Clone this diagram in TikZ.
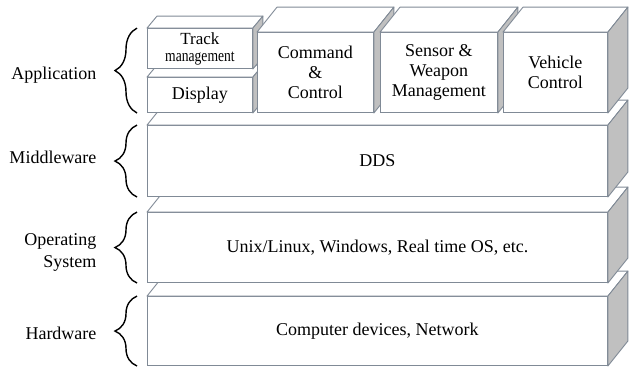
\documentclass[tikz,border=0pt]{standalone}
\usepackage{fontspec}
\newfontfamily\diagfont{Liberation Serif}
\usetikzlibrary{decorations.pathreplacing}

\definecolor{edgegray}{RGB}{128,138,150}
\definecolor{sidegray}{RGB}{192,192,192}

% top and right faces of a slab, #1 = node, #2/#3 = depth
\newcommand{\slabfaces}[3]{%
  \filldraw[topface] (#1.north west) -- ++(#2,#3) -- ([shift={(#2,#3)}]#1.north east) -- (#1.north east) -- cycle;
  \filldraw[sideface] (#1.north east) -- ++(#2,#3) -- ([shift={(#2,#3)}]#1.south east) -- (#1.south east) -- cycle;
}

\begin{document}
\begin{tikzpicture}[x=1pt,y=1pt,
  front/.style={draw=edgegray, fill=white, line width=0.9pt, inner sep=0pt,
    anchor=south west, align=center, font=\diagfont\fontsize{18}{20}\selectfont},
  topface/.style={draw=edgegray, fill=white, line width=0.9pt, line join=round},
  sideface/.style={draw=edgegray, fill=sidegray, line width=0.9pt, line join=round},
  lbl/.style={anchor=east, align=right, font=\diagfont\fontsize{18}{22}\selectfont},
  brc/.style={decorate, decoration={brace, amplitude=22pt}, line width=1.4pt}]
\useasboundingbox (0,0) rectangle (636,367);

% layers, back to front
\node[front, minimum width=460pt, minimum height=69pt] (hw) at (147,1) {Computer devices, Network};
\slabfaces{hw}{20}{25}
\node[front, minimum width=460pt, minimum height=70pt] (os) at (147,84) {Unix/Linux, Windows, Real time OS, etc.};
\slabfaces{os}{20}{25}
\node[front, minimum width=460pt, minimum height=71pt] (dds) at (147,170) {DDS};
\slabfaces{dds}{20}{25}

% application blocks
\node[front, minimum width=105pt, minimum height=35pt] (disp) at (147,254) {Display};
\slabfaces{disp}{10}{12}
\node[front, minimum width=105pt, minimum height=40pt,
  font=\diagfont\fontsize{17}{17}\selectfont] (track) at (147,298) {Track\\\scalebox{0.8}[1]{management}};
\slabfaces{track}{10}{12}
\node[front, minimum width=116pt, minimum height=80pt] (cc) at (257,254) {Command\\\&\\Control};
\slabfaces{cc}{20}{25}
\node[front, minimum width=117pt, minimum height=80pt] (sw) at (380,254) {Sensor \&\\Weapon\\Management};
\slabfaces{sw}{20}{25}
\node[front, minimum width=104pt, minimum height=80pt] (vc) at (503,254) {Vehicle\\Control};
\slabfaces{vc}{20}{25}

% layer names
\node[lbl] (lapp) at (100,292) {Application};
\node[lbl] (lmid) at (100,210) {Middleware};
\node[lbl] (los) at (100,115) {Operating\\System};
\node[lbl] (lhw) at (100,34) {Hardware};

\draw[brc] ([xshift=-10pt]disp.south west) -- ([xshift=-10pt]track.north west);
\draw[brc] ([xshift=-10pt]dds.south west) -- ([xshift=-10pt]dds.north west);
\draw[brc] ([xshift=-10pt]os.south west) -- ([xshift=-10pt]os.north west);
\draw[brc] ([xshift=-10pt]hw.south west) -- ([xshift=-10pt]hw.north west);
\end{tikzpicture}
\end{document}
